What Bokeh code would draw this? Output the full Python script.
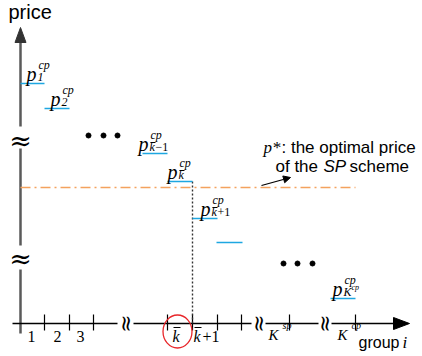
from bokeh.plotting import figure
from bokeh.models import Range1d, Arrow, NormalHead
from bokeh.core.properties import value
from bokeh.embed import file_html
from bokeh.resources import INLINE

SERIF = "Liberation Serif"
SANS = "Liberation Sans"

# ---- schematic data (diagram units = pixels of the drawing) ----
# price step of each group: start, end along the group axis, and price level
seg_x0 = [20, 44, 142, 167, 192, 216, 330]
seg_x1 = [44, 69, 167, 192, 217, 242, 355]
seg_y = [83, 108, 153, 181, 218, 242, 298]

# labels p_i^cp for the steps
lab_seg = [0, 1, 2, 3, 4, 6]
lab_x = [26, 50, 138, 167, 200, 332]
lab_sub = ["1", "2", "k", "k", "k", "K"]
lab_sub_tail = ["", "", "\u22121", "", "+1", ""]
lab_bar = [False, False, True, True, True, False]

# optimal price p* of the SP scheme
p_star = 187
p_star_x = [20, 355]
k_bar_x = 192

# group-axis ticks
tick_x = [44, 69, 93, 167, 192, 217, 241, 289, 355]
num_labels = ["1", "2", "3"]
num_label_x = [31, 57, 80]

# ellipsis dots
dot_x = [88, 103, 117, 283, 297, 312]
dot_y = [135, 135, 135, 263, 263, 263]

# axis breaks
ybreak_y = [140, 258]
xbreak_x = [125, 258, 324]

AX_Y = 323  # group axis position
AX_X = 20   # price axis position
SHIFT = 6   # baseline correction of the svg text

p = figure(width=422, height=356, x_range=Range1d(0, 422), y_range=Range1d(356, 0),
           output_backend="svg", toolbar_location=None, min_border=0)
p.axis.visible = False
p.grid.visible = False
p.outline_line_color = None
p.background_fill_color = "white"


def txt(xs, ys, texts, font=SERIF, size=16, style="normal", align="left"):
    p.text(x=list(xs), y=[v - SHIFT for v in ys], text=list(texts), text_font=value(font),
           text_font_size=f"{size}px", text_font_style=style, text_align=align,
           text_baseline="alphabetic", text_color="black")


# price axis (vertical, with breaks) and arrowhead
p.segment(x0=[AX_X] * 3, x1=[AX_X] * 3, y0=[42, 148, 269], y1=[126, 245, 333],
          line_color="#5a5a5a", line_width=2.5)
p.patch(x=[AX_X, AX_X - 5.5, AX_X + 5.5], y=[27, 42, 42], color="#333333", line_width=1)

# group axis (horizontal, with breaks) and arrowhead
p.segment(x0=[12, 133, 265, 331], x1=[117, 251, 318, 395], y0=[AX_Y] * 4, y1=[AX_Y] * 4,
          line_color="black", line_width=1.5)
p.patch(x=[409, 393, 393], y=[AX_Y, AX_Y - 6, AX_Y + 6], color="black")

# ticks
p.segment(x0=tick_x, x1=tick_x, y0=[314] * len(tick_x), y1=[330] * len(tick_x),
          line_color="black", line_width=1.2)

# break symbols
p.text(x=[AX_X] * 2, y=ybreak_y, text=["\u2248"] * 2, text_font=value("DejaVu Serif"),
       text_font_size="27px", text_align="center", text_baseline="middle", text_color="black")
p.text(x=xbreak_x, y=[AX_Y] * 3, text=["\u2248"] * 3, text_font=value("DejaVu Serif"),
       text_font_size="22px", text_align="center", text_baseline="middle", text_color="black",
       angle=1.5708)

# optimal price line and k-bar dotted line
p.line(x=p_star_x, y=[p_star, p_star], line_color="#f4a25e", line_width=1.4, line_dash="10 4 2 4")
p.segment(x0=[k_bar_x], x1=[k_bar_x], y0=[seg_y[3]], y1=[AX_Y], line_color="#333333",
          line_width=1.4, line_dash="2 2")

# price steps
p.segment(x0=seg_x0, x1=seg_x1, y0=seg_y, y1=seg_y, line_color="#1ea7e1", line_width=1.6)

# step labels p_i^cp
ly = [seg_y[i] for i in lab_seg]
txt(lab_x, [v - 4 for v in ly], ["p"] * len(lab_x), size=20, style="italic")
txt([v + 11 for v in lab_x], [v - 1 for v in ly], lab_sub, size=12, style="italic")
txt([v + 17 for v in lab_x], [v - 1 for v in ly], lab_sub_tail, size=12)
txt([v + 12 for v in lab_x], [v - 13 for v in ly], ["cp"] * len(lab_x), size=12, style="italic")
txt([lab_x[-1] + 19], [ly[-1] - 5], ["cp"], size=8, style="italic")
bx = [lab_x[i] + 12 for i in range(len(lab_x)) if lab_bar[i]]
by = [ly[i] - 11 for i in range(len(lab_x)) if lab_bar[i]]
p.segment(x0=bx, x1=[v + 5 for v in bx], y0=by, y1=by, line_color="black", line_width=1)

# ellipsis dots
p.scatter(x=dot_x, y=dot_y, size=5, color="black")

# group axis labels
txt(num_label_x, [342] * 3, num_labels, size=16, align="center")
txt([172, 193], [342, 342], ["k", "k"], size=16, style="italic")
p.segment(x0=[173, 194], x1=[180, 201], y0=[327, 327], y1=[327, 327], line_color="black", line_width=1)
txt([202], [342], ["+1"], size=16)
txt([268, 337], [340, 340], ["K", "K"], size=15, style="italic")
txt([282, 351], [331, 331], ["sp", "cp"], size=10, style="italic")

# highlight circle around k-bar
p.ellipse(x=[177], y=[331], width=[29], height=[33], fill_color=None, line_color="#e8262a",
          line_width=1.3)

# axis titles
txt([8], [17], ["price"], font=SANS, size=20)
txt([358], [348], ["group"], font=SANS, size=16)
txt([402], [348], ["i"], size=17, style="italic")

# p* annotation
txt([263], [153], ["p*"], size=17, style="italic")
txt([281], [153], [": the optimal price"], font=SANS, size=17)
txt([275], [172], ["of the"], font=SANS, size=17)
txt([323], [172], ["SP"], font=SANS, size=17, style="italic")
txt([349], [172], ["scheme"], font=SANS, size=17)
p.add_layout(Arrow(end=NormalHead(size=7, fill_color="black", line_color="black"),
                   x_start=261, y_start=185, x_end=290, y_end=177, line_width=1.2, line_color="black"))

open("out.html", "w").write(file_html(p, INLINE))
